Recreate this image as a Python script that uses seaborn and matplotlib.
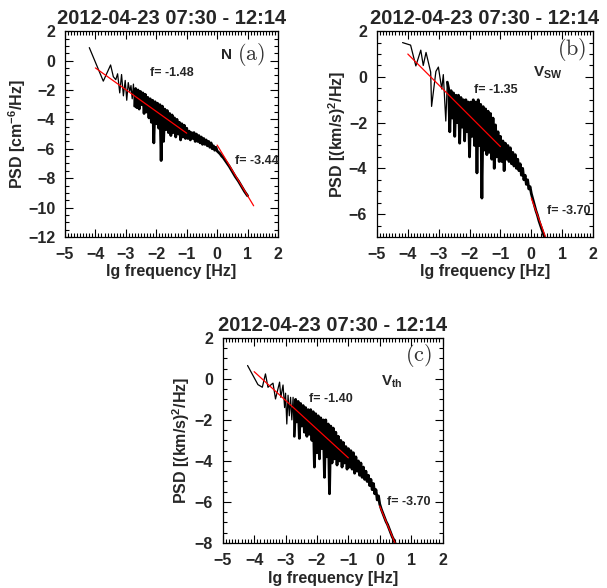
import numpy as np
import pandas as pd
import matplotlib
matplotlib.use("Agg")
import matplotlib.pyplot as plt
from matplotlib.ticker import MultipleLocator
import seaborn as sns

# ---- panel (a): N ----
a_x = [-4.20, -3.74, -3.50, -3.41, -3.33, -3.27, -3.20, -3.14, -3.08, -3.02,
       -2.97, -2.92, -2.87, -2.83, -2.79, -2.75, -2.71,
       -2.68, -2.64, -2.60, -2.56, -2.52, -2.48, -2.44, -2.40, -2.36, -2.32,
       -2.28, -2.24, -2.20, -2.16, -2.12, -2.08, -2.04, -2.00, -1.96, -1.92,
       -1.88, -1.84, -1.80, -1.76, -1.72, -1.68, -1.64, -1.60, -1.56, -1.52,
       -1.48, -1.44, -1.40, -1.36, -1.32, -1.28, -1.24, -1.20, -1.16, -1.12,
       -1.08, -1.04, -1.00,
       -0.96, -0.92, -0.88, -0.84, -0.80, -0.76, -0.72, -0.68, -0.64, -0.60,
       -0.56, -0.52, -0.48, -0.44, -0.40, -0.36, -0.32, -0.28, -0.24, -0.20,
       -0.16, -0.12, -0.08, -0.04, 0.00,
       0.05, 0.10, 0.15, 0.20, 0.25, 0.30, 0.40, 0.50, 0.60, 0.70,
       0.80, 0.90, 1.00]
a_y = [0.88, -1.40, -0.30, -1.10, -1.30, -0.90, -2.20, -0.95, -2.40, -1.35,
       -2.70, -1.50, -2.10, -1.70, -2.60, -1.60, -3.10,
       -1.9, -3.2, -2.0, -3.3, -2.1, -3.0, -2.2, -3.6, -2.3, -3.5,
       -2.5, -3.9, -2.6, -4.2, -2.7, -5.6, -2.8, -4.3, -2.9, -4.6,
       -3.0, -6.8, -3.1, -5.5, -3.3, -4.7, -3.4, -4.9, -3.6, -5.1,
       -3.7, -4.9, -3.9, -5.2, -4.0, -5.0, -4.2, -5.4, -4.3, -5.2,
       -4.4, -5.3, -4.6,
       -5.3, -4.8, -5.4, -4.9, -5.3, -4.9, -5.5, -5.0, -5.5, -5.1,
       -5.6, -5.2, -5.7, -5.3, -5.7, -5.4, -5.8, -5.5, -5.9, -5.6,
       -6.0, -5.8, -6.1, -5.9, -6.15,
       -6.25, -6.35, -6.5, -6.6, -6.75, -6.9, -7.2, -7.55, -7.9, -8.2,
       -8.55, -8.9, -9.2]
a_fit_x = [[-4.0, -1.0], [0.0, 1.2]]
a_fit_y = [[-0.50, -4.94], [-5.75, -9.88]]

# ---- panel (b): V_SW ----
b_x = [-4.17, -3.91, -3.74, -3.58, -3.50, -3.41, -3.26, -3.23, -3.09, -3.01,
       -2.90, -2.85, -2.77, -2.72,
       -2.68, -2.64, -2.60, -2.56, -2.52, -2.48, -2.44, -2.40, -2.36, -2.32,
       -2.28, -2.24, -2.20, -2.16, -2.12, -2.08, -2.04, -2.00, -1.96, -1.92,
       -1.88, -1.84, -1.80, -1.76, -1.72, -1.68, -1.64, -1.60, -1.56, -1.52,
       -1.48, -1.44, -1.40, -1.36, -1.32, -1.28, -1.24, -1.20, -1.16, -1.12,
       -1.08, -1.04, -1.00,
       -0.96, -0.92, -0.88, -0.84, -0.80, -0.76, -0.72, -0.68, -0.64, -0.60,
       -0.56, -0.52, -0.48, -0.44, -0.40, -0.36, -0.32, -0.28, -0.24, -0.20,
       -0.16, -0.12, -0.08, -0.04, 0.00,
       0.05, 0.10, 0.15, 0.20, 0.25, 0.30, 0.35, 0.40, 0.45, 0.50]
b_y = [1.50, 1.39, 0.48, 1.17, 0.50, 1.07, 0.21, -1.29, 0.24, 0.43,
       -0.53, 0.10, -1.93, -0.23,
       -0.5, -2.4, -0.6, -1.8, -0.7, -2.6, -0.8, -2.0, -0.8, -2.9,
       -0.9, -2.2, -1.0, -2.8, -1.0, -2.4, -1.1, -3.5, -1.1, -2.6,
       -1.0, -3.0, -1.1, -4.2, -1.0, -3.0, -1.2, -5.3, -1.3, -3.2,
       -1.4, -3.4, -1.5, -3.3, -1.6, -3.6, -1.8, -4.0, -2.1, -3.5,
       -2.4, -3.7, -2.6,
       -3.7, -2.8, -4.1, -2.9, -3.6, -3.0, -3.7, -3.1, -3.8, -3.3,
       -3.9, -3.4, -4.0, -3.6, -4.1, -3.8, -4.3, -4.0, -4.5, -4.3,
       -4.7, -4.5, -4.9, -4.8, -5.1,
       -5.35, -5.6, -5.85, -6.05, -6.3, -6.5, -6.7, -6.9, -7.1, -7.3]
b_fit_x = [[-4.0, -1.0], [0.0, 0.5]]
b_fit_y = [[1.00, -3.05], [-5.30, -7.15]]

# ---- panel (c): V_th ----
c_x = [-4.21, -3.88, -3.74, -3.64, -3.56, -3.40, -3.32, -3.19, -3.15, -3.08,
       -3.03,
       -3.00, -2.96, -2.92, -2.88, -2.84, -2.80, -2.76, -2.72, -2.68, -2.64,
       -2.60, -2.56, -2.52, -2.48, -2.44, -2.40, -2.36, -2.32, -2.28, -2.24,
       -2.20, -2.16, -2.12, -2.08, -2.04, -2.00, -1.96, -1.92, -1.88, -1.84,
       -1.80, -1.76, -1.72, -1.68, -1.64, -1.60, -1.56, -1.52, -1.48, -1.44,
       -1.40, -1.36, -1.32, -1.28, -1.24, -1.20, -1.16, -1.12, -1.08, -1.04,
       -1.00,
       -0.96, -0.92, -0.88, -0.84, -0.80, -0.76, -0.72, -0.68, -0.64, -0.60,
       -0.56, -0.52, -0.48, -0.44, -0.40, -0.36, -0.32, -0.28, -0.24, -0.20,
       -0.16, -0.12, -0.08, -0.04, 0.00,
       0.05, 0.10, 0.15, 0.20, 0.25, 0.30, 0.35, 0.40, 0.45, 0.50]
c_y = [0.65, -0.28, -0.41, 0.24, -0.41, -0.21, -0.98, -0.16, -0.90, -0.30,
       -1.40,
       -0.7, -2.2, -0.8, -1.8, -0.9, -2.0, -0.9, -2.8, -1.0, -2.1,
       -1.1, -2.9, -1.2, -2.3, -1.3, -2.6, -1.4, -2.8, -1.5, -2.7,
       -1.5, -3.0, -1.6, -4.3, -1.7, -3.6, -1.8, -3.9, -1.9, -3.4,
       -2.0, -4.8, -2.0, -3.8, -2.2, -5.6, -2.3, -4.1, -2.4, -3.9,
       -2.6, -4.2, -2.8, -4.0, -3.0, -4.3, -3.1, -4.1, -3.3, -4.4,
       -3.4,
       -4.3, -3.5, -4.4, -3.6, -4.6, -3.8, -4.5, -4.0, -4.7, -4.1,
       -4.8, -4.3, -4.9, -4.5, -5.0, -4.7, -5.2, -4.9, -5.4, -5.1,
       -5.6, -5.4, -5.9, -5.7, -6.1,
       -6.35, -6.55, -6.75, -6.95, -7.1, -7.3, -7.5, -7.7, -7.85, -8.05]
c_fit_x = [[-4.0, -1.0], [0.0, 0.5]]
c_fit_y = [[0.35, -3.85], [-6.20, -8.05]]

title = "2012-04-23 07:30 - 12:14"

sns.set_style("ticks")
plt.rcParams["font.family"] = ["Liberation Sans", "DejaVu Sans"]
plt.rcParams["font.weight"] = "bold"
plt.rcParams["mathtext.fontset"] = "custom"
plt.rcParams["mathtext.rm"] = "Liberation Sans:bold"
plt.rcParams["mathtext.bf"] = "Liberation Sans:bold"
plt.rcParams["mathtext.it"] = "Liberation Sans:bold"

fig = plt.figure(figsize=(6.07, 5.88), dpi=100)

panels = [
    dict(pos=[0.107, 0.597, 0.351, 0.350], x=a_x, y=a_y, fx=a_fit_x, fy=a_fit_y,
         ylim=(-12, 2), yt=range(-12, 3, 2), ylab=r"PSD [cm$^{\mathbf{-6}}$/Hz]",
         ylab_x=-0.175,
         f1=(-2.2, -0.85, "f= -1.48"), f2=(0.59, -6.85, "f= -3.44"),
         var=(0.09, 0.4, r"$\mathbf{N}$"), tag=(0.65, 0.4, r"$\mathrm{(a)}$")),
    dict(pos=[0.621, 0.597, 0.356, 0.350], x=b_x, y=b_y, fx=b_fit_x, fy=b_fit_y,
         ylim=(-7, 2), yt=range(-6, 3, 2), ylab=r"PSD [(km/s)$^{\mathbf{2}}$/Hz]",
         ylab_x=-0.134,
         f1=(-1.86, -0.57, "f= -1.35"), f2=(0.51, -5.87, "f= -3.70"),
         var=(0.06, 0.2, r"$\mathbf{V}_{\mathbf{SW}}$"), tag=(0.83, 1.2, r"$\mathrm{(b)}$")),
    dict(pos=[0.367, 0.0765, 0.362, 0.349], x=c_x, y=c_y, fx=c_fit_x, fy=c_fit_y,
         ylim=(-8, 2), yt=range(-8, 3, 2), ylab=r"PSD [(km/s)$^{\mathbf{2}}$/Hz]",
         ylab_x=-0.141,
         f1=(-2.26, -1.0, "f= -1.40"), f2=(0.23, -6.0, "f= -3.70"),
         var=(0.05, -0.15, r"$\mathbf{V}_{\mathbf{th}}$"), tag=(0.79, 1.15, r"$\mathrm{(c)}$")),
]

for p in panels:
    ax = fig.add_axes(p["pos"])
    df = pd.DataFrame({"lgf": p["x"], "psd": p["y"]})
    # full spectrum thin, the densely sampled part drawn heavier so it reads as a band
    sns.lineplot(data=df, x="lgf", y="psd", ax=ax, color="black", lw=0.9,
                 estimator=None, sort=False)
    dense = df[df["lgf"] > -2.75]
    sns.lineplot(data=dense, x="lgf", y="psd", ax=ax, color="black", lw=2.0,
                 estimator=None, sort=False)
    for fx, fy in zip(p["fx"], p["fy"]):
        sns.lineplot(x=fx, y=fy, ax=ax, color="red", lw=0.9, estimator=None)

    ax.set_xlim(-5, 2)
    ax.set_ylim(*p["ylim"])
    ax.set_xticks(range(-5, 3))
    ax.set_yticks(list(p["yt"]))
    ax.xaxis.set_minor_locator(MultipleLocator(0.1))
    ax.yaxis.set_minor_locator(MultipleLocator(0.5))
    ax.tick_params(which="both", direction="in", top=True, right=True,
                   width=0.8, labelsize=11.5, color="black")
    ax.tick_params(which="major", length=6, pad=7)
    ax.tick_params(which="minor", length=3, bottom=True, left=True)
    for s in ax.spines.values():
        s.set_linewidth(0.9)
        s.set_color("black")
    for lab in ax.get_xticklabels() + ax.get_yticklabels():
        lab.set_fontweight("bold")

    ax.set_title(title, fontsize=14.5, fontweight="bold", pad=5)
    ax.set_xlabel("lg frequency [Hz]", fontsize=11.5, fontweight="bold", labelpad=2)
    ax.set_ylabel(p["ylab"], fontsize=11.5, fontweight="bold")
    ax.yaxis.set_label_coords(p["ylab_x"], 0.5)

    ax.text(p["f1"][0], p["f1"][1], p["f1"][2], fontsize=9, fontweight="bold", va="center")
    ax.text(p["f2"][0], p["f2"][1], p["f2"][2], fontsize=9, fontweight="bold", va="center")
    ax.text(p["var"][0], p["var"][1], p["var"][2], fontsize=11, va="center")
    ax.text(p["tag"][0], p["tag"][1], p["tag"][2], fontsize=16, va="center",
            math_fontfamily="cm", color="#333333")

fig.savefig("out.png", dpi=100)
